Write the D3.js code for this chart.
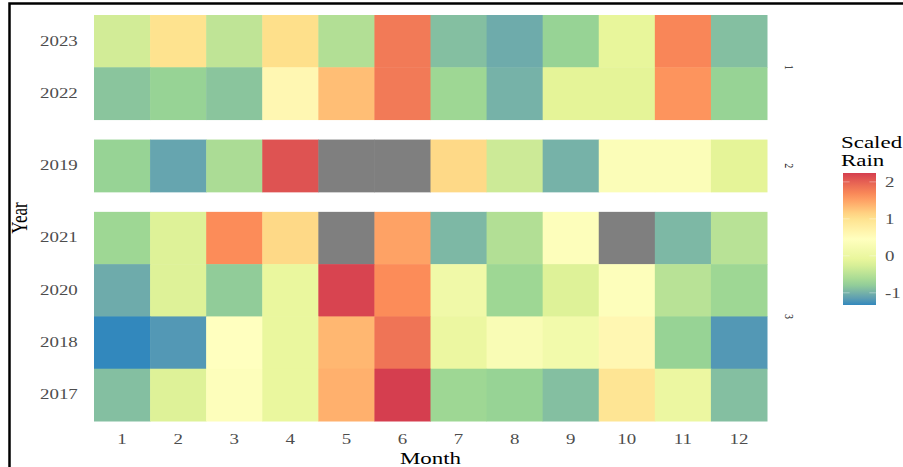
<!DOCTYPE html>
<html>
<head>
<meta charset="utf-8">
<script src="https://cdn.jsdelivr.net/npm/d3@7"></script>
<style>
  body { margin: 0; background: #fff; }
  svg { display: block; font-family: "Liberation Serif", "DejaVu Serif", serif; }
</style>
</head>
<body>
<div id="chart"></div>
<script>
// chart data
const months = [1, 2, 3, 4, 5, 6, 7, 8, 9, 10, 11, 12];
const facets = ["1", "2", "3"];
const years = [2023, 2022, 2019, 2021, 2020, 2018, 2017];
const yearFacet = ["1", "1", "2", "3", "3", "3", "3"];
// scaled rain per month, null = missing
const rain2023 = [-0.3, 1.0, -0.45, 1.05, -0.55, 1.8, -0.9, -1.05, -0.75, -0.1, 1.7, -0.9];
const rain2022 = [-0.85, -0.75, -0.85, 0.6, 1.3, 1.8, -0.7, -1.0, -0.15, -0.15, 1.6, -0.75];
const rain2019 = [-0.75, -1.1, -0.6, 2.1, null, null, 1.1, -0.35, -1.0, 0.35, 0.35, -0.15];
const rain2021 = [-0.7, -0.2, 1.65, 1.1, null, 1.5, -0.95, -0.55, 0.4, null, -0.95, -0.5];
const rain2020 = [-1.05, -0.2, -0.8, -0.05, 2.2, 1.65, 0.1, -0.7, -0.2, 0.4, -0.5, -0.7];
const rain2018 = [-1.33, -1.2, 0.45, -0.05, 1.35, 1.85, 0.0, 0.3, 0.15, 0.6, -0.75, -1.2];
const rain2017 = [-0.9, -0.2, 0.4, -0.05, 1.4, 2.24, -0.7, -0.75, -0.9, 0.95, 0.0, -0.9];
const legendTicks = [-1, 0, 1, 2];

const rainByYear = {
  2023: rain2023, 2022: rain2022, 2019: rain2019, 2021: rain2021,
  2020: rain2020, 2018: rain2018, 2017: rain2017
};

// text in the picture is stretched sideways
const SX = 1.35;

const width = 903, height = 467;
const svg = d3.select("#chart").append("svg")
  .attr("width", width).attr("height", height);

svg.append("rect").attr("width", width).attr("height", height).attr("fill", "#fff");

const panelLeft = 94, panelRight = 767, panelTop = 15, panelBottom = 421;
const facetGap = 20;

var x = d3.scaleBand().domain(months).range([panelLeft, panelRight]);

// row height shared by all facets (facet_grid space = "free")
const rowH = (panelBottom - panelTop - facetGap * (facets.length - 1)) / years.length;

var cells = [];
years.forEach((yr, i) => {
  rainByYear[yr].forEach((v, j) => {
    cells.push({ year: yr, month: months[j], value: v, facet: yearFacet[i] });
  });
});

var values = cells.map(d => d.value).filter(v => v != null);
var ext = d3.extent(values);

const spectral = ["#3288BD", "#99D594", "#E6F598", "#FFFFBF", "#FEE08B", "#FC8D59", "#D53E4F"];
var color = d3.scaleLinear()
  .domain(spectral.map((c, i) => ext[0] + i * (ext[1] - ext[0]) / (spectral.length - 1)))
  .range(spectral)
  .interpolate(d3.interpolateLab);

var facetTop = panelTop;
facets.forEach(f => {
  var fy = years.filter((y, i) => yearFacet[i] === f);
  var y = d3.scaleBand().domain(fy).range([facetTop, facetTop + fy.length * rowH]);

  var g = svg.append("g");
  g.selectAll("rect")
    .data(cells.filter(d => d.facet === f))
    .join("rect")
    .attr("x", d => x(d.month))
    .attr("y", d => y(d.year))
    .attr("width", x.bandwidth() + 0.5)
    .attr("height", y.bandwidth() + 0.5)
    .attr("fill", d => d.value == null ? "#7f7f7f" : color(d.value));

  // year labels
  var ax = svg.append("g")
    .attr("transform", `translate(${panelLeft},0)`)
    .call(d3.axisLeft(y).tickSize(0).tickPadding(12));
  ax.select(".domain").remove();
  ax.selectAll("text")
    .attr("font-family", "Liberation Serif, serif")
    .attr("font-size", 14)
    .attr("fill", "#4d4d4d")
    .attr("transform", `scale(${SX},1)`);

  // facet strip on the right
  var cy = facetTop + fy.length * rowH / 2;
  svg.append("text")
    .attr("transform", `translate(790,${cy}) scale(${SX},1) rotate(90)`)
    .attr("text-anchor", "middle")
    .attr("dy", "0.35em")
    .attr("font-size", 10)
    .attr("fill", "#1a1a1a")
    .text(f);

  facetTop += fy.length * rowH + facetGap;
});

// frame on the left and top edge
svg.append("path")
  .attr("d", `M9.5,${height} V3.5 H${width}`)
  .attr("fill", "none").attr("stroke", "#000").attr("stroke-width", 2.5);

// month labels
var xa = svg.append("g")
  .attr("transform", `translate(0,${panelBottom})`)
  .call(d3.axisBottom(x).tickSize(0).tickPadding(13));
xa.select(".domain").remove();
xa.selectAll("text")
  .attr("font-family", "Liberation Serif, serif")
  .attr("font-size", 14)
  .attr("fill", "#4d4d4d")
  .attr("transform", `scale(${SX},1)`);

// axis titles
svg.append("text")
  .attr("transform", `translate(${(panelLeft + panelRight) / 2},464) scale(${SX},1)`)
  .attr("text-anchor", "middle")
  .attr("font-size", 17)
  .attr("fill", "#000")
  .text("Month");

svg.append("text")
  .attr("transform", `translate(27,${(panelTop + panelBottom) / 2}) scale(${SX},1) rotate(-90)`)
  .attr("text-anchor", "middle")
  .attr("font-size", 17)
  .attr("fill", "#000")
  .text("Year");

// legend
const barX = 843, barW = 33, barTop = 173, barBottom = 305;
var ly = d3.scaleLinear().domain(ext).range([barBottom, barTop]);

var defs = svg.append("defs");
var grad = defs.append("linearGradient")
  .attr("id", "rainGrad")
  .attr("x1", 0).attr("y1", 1).attr("x2", 0).attr("y2", 0);
d3.range(0, 1.0001, 0.05).forEach(t => {
  grad.append("stop")
    .attr("offset", t)
    .attr("stop-color", color(ext[0] + t * (ext[1] - ext[0])));
});

svg.append("rect")
  .attr("x", barX).attr("y", barTop)
  .attr("width", barW).attr("height", barBottom - barTop)
  .attr("fill", "url(#rainGrad)");

legendTicks.forEach(v => {
  svg.append("line")
    .attr("x1", barX).attr("x2", barX + barW / 5)
    .attr("y1", ly(v)).attr("y2", ly(v))
    .attr("stroke", "#fff").attr("stroke-width", 0.6).attr("stroke-opacity", 0.6);
  svg.append("line")
    .attr("x1", barX + barW - barW / 5).attr("x2", barX + barW)
    .attr("y1", ly(v)).attr("y2", ly(v))
    .attr("stroke", "#fff").attr("stroke-width", 0.6).attr("stroke-opacity", 0.6);
  svg.append("text")
    .attr("transform", `translate(885,${ly(v)}) scale(${SX},1)`)
    .attr("dy", "0.35em")
    .attr("font-size", 14)
    .attr("fill", "#4d4d4d")
    .text(v);
});

svg.append("text")
  .attr("transform", `translate(841,148) scale(${SX},1)`)
  .attr("font-size", 17)
  .attr("fill", "#000")
  .text("Scaled");
svg.append("text")
  .attr("transform", `translate(841,166) scale(${SX},1)`)
  .attr("font-size", 17)
  .attr("fill", "#000")
  .text("Rain");
</script>
</body>
</html>
